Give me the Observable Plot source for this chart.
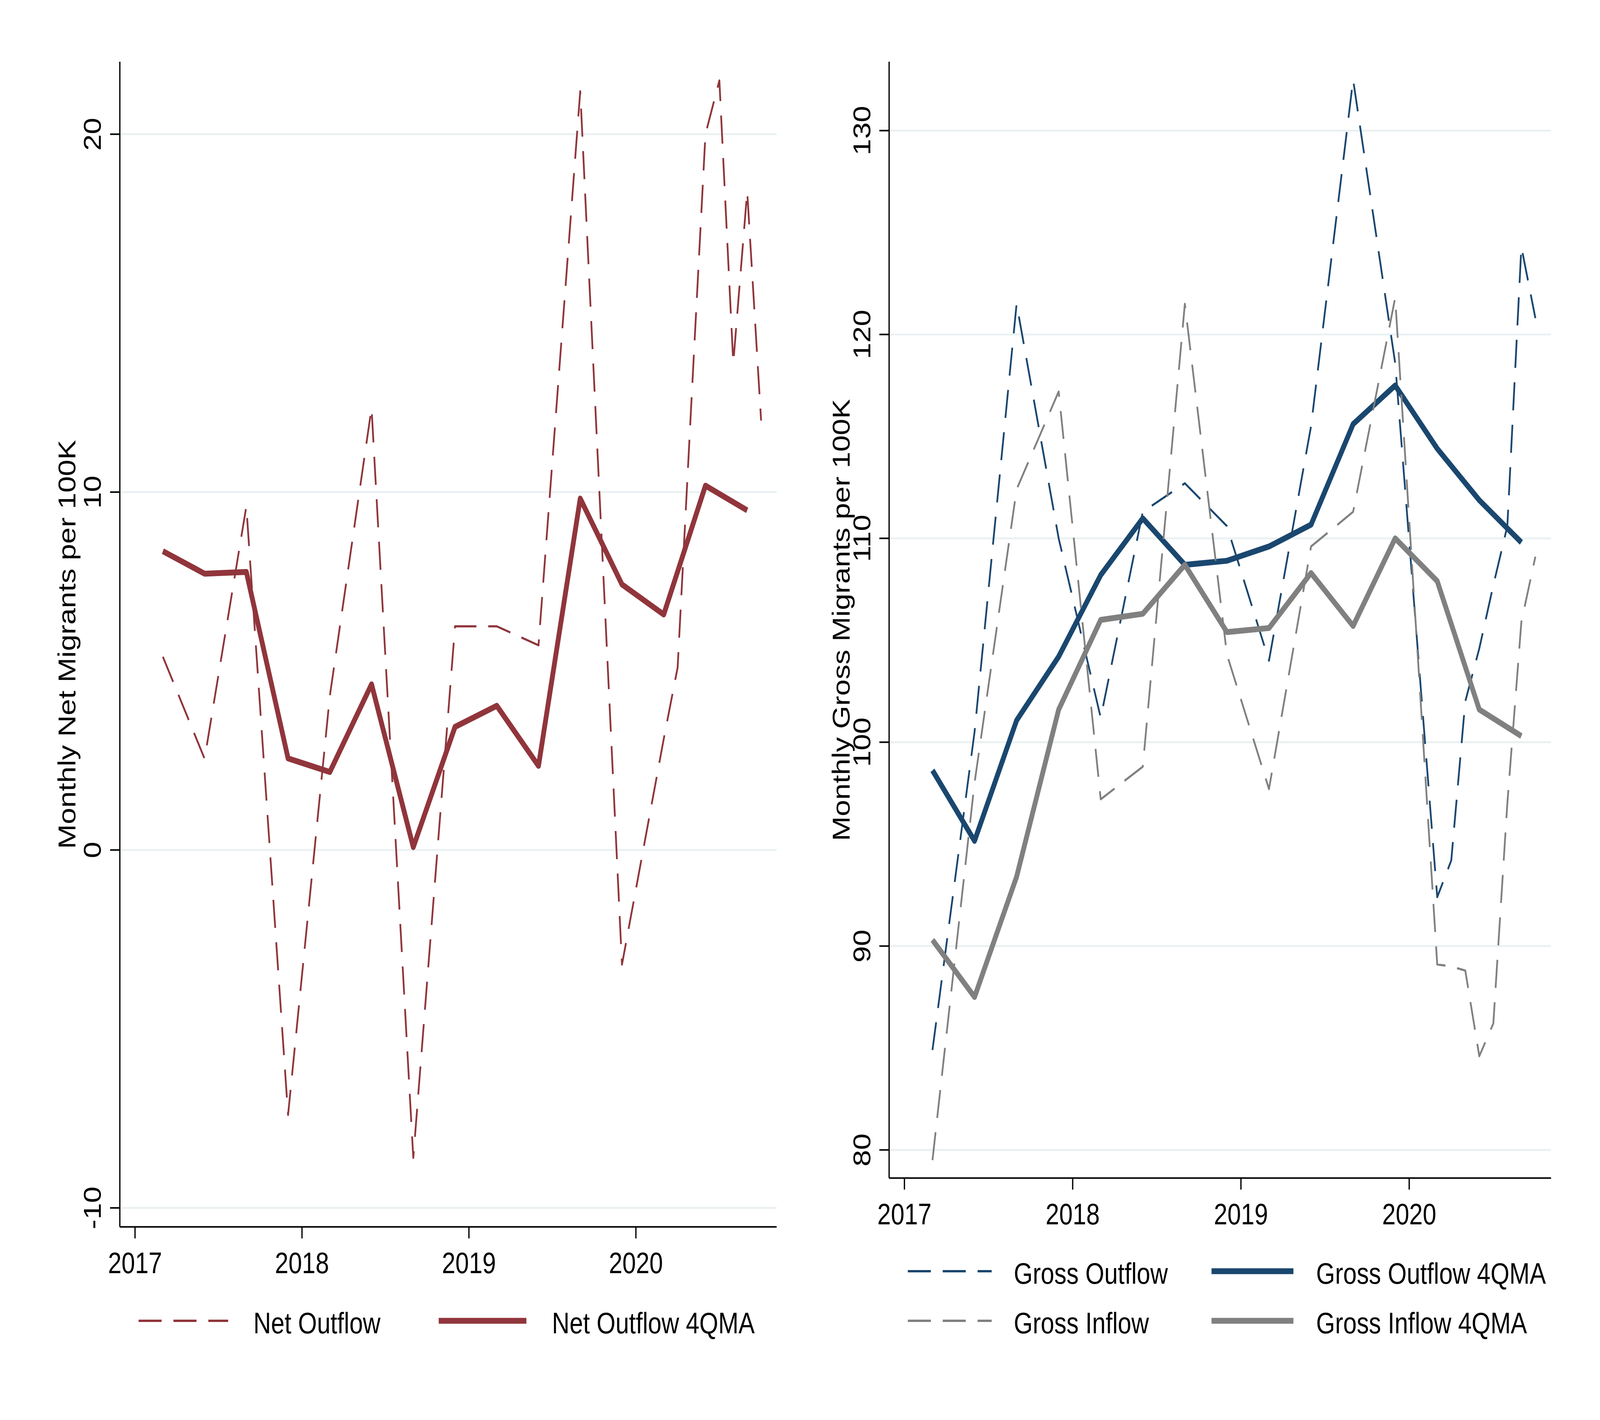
<!DOCTYPE html>
<html>
<head>
<meta charset="utf-8">
<script src="https://cdn.jsdelivr.net/npm/d3@7"></script>
<script src="https://cdn.jsdelivr.net/npm/@observablehq/plot@0.6"></script>
<style>
  html, body { margin: 0; padding: 0; background: #ffffff; overflow: hidden; }
  #outer { position: relative; overflow: hidden; background: #ffffff; }
  #wrap { position: absolute; left: 0; top: 0; width: 5000px; height: 3636px; background: #ffffff;
          transform-origin: 0 0;
          font-family: "Liberation Sans", Arial, Helvetica, sans-serif; }
  .panel { position: absolute; top: 0; }
  #legend { position: absolute; left: 0; top: 0; pointer-events: none; }
</style>
</head>
<body>
<div id="outer"><div id="wrap"></div></div>
<script>
// ---------------- data ----------------
const obsDates = ["2017-03","2017-06","2017-09","2017-12","2018-03","2018-06","2018-09","2018-12",
                  "2019-03","2019-06","2019-09","2019-12","2020-03","2020-04","2020-05","2020-06",
                  "2020-07","2020-08","2020-09","2020-10"];
const maDates  = ["2017-03","2017-06","2017-09","2017-12","2018-03","2018-06","2018-09","2018-12",
                  "2019-03","2019-06","2019-09","2019-12","2020-03","2020-06","2020-09"];

const netOutflow     = [5.4, 2.55, 9.6, -7.4, 4.3, 12.35, -8.6, 6.25, 6.25, 5.72, 21.2, -3.2,
                        3.1, 5.1, 12.6, 20.0, 21.5, 13.6, 18.4, 12.0];
const netOutflowMA   = [8.35, 7.72, 7.77, 2.56, 2.18, 4.63, 0.08, 3.44, 4.03, 2.35, 9.82, 7.42,
                        6.58, 10.18, 9.49];

const grossOutflow   = [84.9, 100.5, 121.5, 110.0, 101.2, 111.3, 112.7, 110.6, 104.0, 115.5, 132.5, 118.6,
                        92.4, 94.2, 102.0, 104.6, 107.7, 110.6, 124.3, 120.8];
const grossInflow    = [79.5, 98.0, 112.4, 117.2, 97.2, 98.8, 121.5, 104.3, 97.7, 109.6, 111.3, 121.8,
                        89.1, 89.0, 88.8, 84.6, 86.2, 97.0, 105.9, 109.1];
const grossOutflowMA = [98.62, 95.16, 101.07, 104.2, 108.2, 110.98, 108.7, 108.9, 109.6, 110.67, 115.6, 117.5,
                        114.4, 111.87, 109.8];
const grossInflowMA  = [90.3, 87.5, 93.4, 101.6, 106.0, 106.3, 108.7, 105.4, 105.6, 108.3, 105.7, 110.0,
                        107.9, 101.6, 100.3];

const xTicks      = [2017, 2018, 2019, 2020];
const netTicks    = [-10, 0, 10, 20];
const grossTicks  = [80, 90, 100, 110, 120, 130];

const netTitle   = "Monthly Net Migrants per 100K";
const grossTitle = "Monthly Gross Migrants per 100K";
const legendNet   = ["Net Outflow", "Net Outflow 4QMA"];
const legendGross = ["Gross Outflow", "Gross Outflow 4QMA", "Gross Inflow", "Gross Inflow 4QMA"];

// ---------------- styling ----------------
const C_NET = "#90353b", C_NAVY = "#1a476f", C_GRAY = "#808080", C_GRID = "#eaf1f2";
const FONT = "Liberation Sans, Arial, Helvetica, sans-serif";
const FS = 76;
const DASH = "72,37";
const W_DASH = 5.5, W_MA = 15;

const toT = s => { const [y, m] = s.split("-").map(Number); return y + (m - 1) / 12; };
const table = (dates, vals) => dates.map((d, i) => ({t: toT(d), v: vals[i]}));

function panel({width, height, mLeft, mRight, mTop, mBottom, xDomain, yDomain, yTicks, series, title, titleDx}) {
  return Plot.plot({
    width, height,
    marginLeft: mLeft, marginRight: mRight, marginTop: mTop, marginBottom: mBottom,
    style: {fontFamily: FONT, fontSize: FS + "px", color: "black", background: "white", overflow: "visible"},
    x: {type: "linear", domain: xDomain},
    y: {type: "linear", domain: yDomain},
    marks: [
      Plot.ruleY(yTicks, {stroke: C_GRID, strokeWidth: 5}),
      ...series.map(s => Plot.line(s.data, {
        x: "t", y: "v", stroke: s.color, strokeWidth: s.width,
        strokeDasharray: s.dash || null, strokeLinejoin: "round", strokeLinecap: "butt"
      })),
      Plot.ruleX([xDomain[0]], {stroke: "black", strokeWidth: 4}),
      Plot.ruleY([yDomain[0]], {stroke: "black", strokeWidth: 4}),
      Plot.axisX({ticks: xTicks, tickFormat: d => String(d), tickSize: 30, tickPadding: 35,
                  strokeWidth: 4, fontSize: FS, label: null}),
      Plot.axisY({ticks: yTicks, tickFormat: d => String(d), tickSize: 30, tickPadding: 29,
                  tickRotate: -90, strokeWidth: 4, fontSize: FS, label: null}),
      Plot.text([title], {frameAnchor: "left", dx: titleDx, rotate: -90, textAnchor: "middle",
                          lineAnchor: "bottom", fontSize: FS, fill: "black"})
    ]
  });
}

const outer = document.getElementById("outer");
const wrap = document.getElementById("wrap");
const xDomain = [2016.909, 2020.844];

const left = panel({
  width: 2500, height: 3320, mLeft: 374, mRight: 73, mTop: 158, mBottom: 179,
  xDomain, yDomain: [-10.53, 22.02], yTicks: netTicks, title: netTitle, titleDx: -139,
  series: [
    {data: table(obsDates, netOutflow), color: C_NET, width: W_DASH, dash: DASH},
    {data: table(maDates, netOutflowMA), color: C_NET, width: W_MA}
  ]
});
left.classList.add("panel"); left.style.left = "0px";
wrap.appendChild(left);

const right = panel({
  width: 2500, height: 3320, mLeft: 278, mRight: 153, mTop: 158, mBottom: 304,
  xDomain, yDomain: [78.62, 133.37], yTicks: grossTicks, title: grossTitle, titleDx: -124,
  series: [
    {data: table(obsDates, grossOutflow), color: C_NAVY, width: W_DASH, dash: DASH},
    {data: table(maDates, grossOutflowMA), color: C_NAVY, width: W_MA},
    {data: table(obsDates, grossInflow), color: C_GRAY, width: W_DASH, dash: DASH},
    {data: table(maDates, grossInflowMA), color: C_GRAY, width: W_MA}
  ]
});
right.classList.add("panel"); right.style.left = "2500px";
wrap.appendChild(right);

// ---------------- legends (below the plot areas) ----------------
const keys = [
  {label: legendNet[0],   color: C_NET,  dash: true,  x1: 433,  x2: 713,  tx: 792,  y: 3382},
  {label: legendNet[1],   color: C_NET,  dash: false, x1: 1371, x2: 1645, tx: 1725, y: 3382},
  {label: legendGross[0], color: C_NAVY, dash: true,  x1: 2837, x2: 3099, tx: 3168, y: 3255},
  {label: legendGross[1], color: C_NAVY, dash: false, x1: 3786, x2: 4042, tx: 4113, y: 3255},
  {label: legendGross[2], color: C_GRAY, dash: true,  x1: 2837, x2: 3099, tx: 3168, y: 3382},
  {label: legendGross[3], color: C_GRAY, dash: false, x1: 3786, x2: 4042, tx: 4113, y: 3382}
];
const lg = d3.select(wrap).append("svg").attr("id", "legend")
  .attr("width", 5000).attr("height", 3636).attr("font-family", FONT).attr("font-size", FS);
keys.forEach(k => {
  lg.append("line").attr("x1", k.x1).attr("x2", k.x2).attr("y1", k.y).attr("y2", k.y)
    .attr("stroke", k.color).attr("stroke-width", k.dash ? 6 : W_MA)
    .attr("stroke-dasharray", k.dash ? DASH : null);
  lg.append("text").attr("x", k.tx).attr("y", k.y + 32).attr("fill", "black").text(k.label);
});

// fit the 5000x3636 drawing to the whole CSS viewport (the window may be narrower than asked)
function fit() {
  const W = window.innerWidth, H = window.innerHeight;
  const sx = W / 5000, sy = H / 3636;
  wrap.style.transform = `scale(${sx}, ${sy})`;
  outer.style.width = W + "px";
  outer.style.height = H + "px";
  document.documentElement.style.height = H + "px";
  document.body.style.height = H + "px";
}
fit();
window.addEventListener("resize", fit);
</script>
</body>
</html>
